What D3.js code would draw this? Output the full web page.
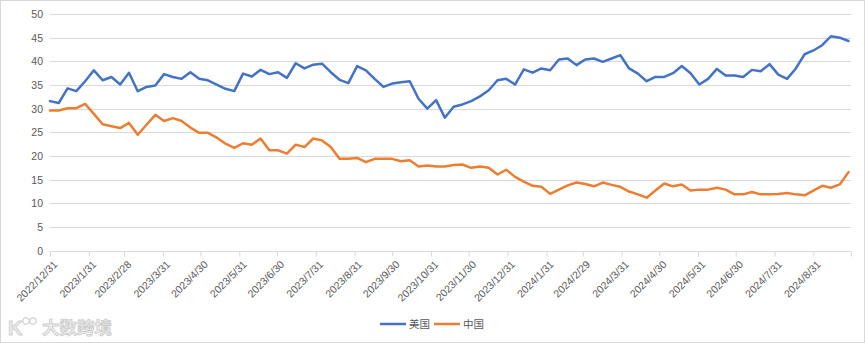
<!DOCTYPE html>
<html>
<head>
<meta charset="utf-8">
<script src="https://cdn.jsdelivr.net/npm/d3@7"></script>
<style>
  html, body { margin: 0; padding: 0; background: #fff; }
  svg { display: block; }
  text { font-family: "Liberation Sans", "Noto Sans CJK SC", sans-serif; }
</style>
</head>
<body>
<svg id="chart" width="865" height="343"></svg>
<script>
// ---- data ----
const startDate = "2022-12-31";
const axisEndDate = "2024-09-30";
const seriesNames = ["美国", "中国"];
const usValues = [31.6, 31.2, 34.3, 33.7, 35.8, 38.1, 36.0, 36.7, 35.1, 37.6,
  33.7, 34.6, 34.9, 37.3, 36.7, 36.3, 37.7, 36.3, 36.0, 35.1,
  34.2, 33.7, 37.4, 36.8, 38.2, 37.3, 37.7, 36.5, 39.6, 38.5,
  39.3, 39.5, 37.7, 36.1, 35.4, 39.0, 38.1, 36.3, 34.6, 35.3,
  35.6, 35.8, 32.1, 30.0, 31.8, 28.1, 30.4, 30.9, 31.6, 32.6,
  33.9, 36.0, 36.3, 35.1, 38.3, 37.6, 38.5, 38.1, 40.4, 40.6,
  39.2, 40.4, 40.6, 39.9, 40.6, 41.3, 38.5, 37.4, 35.8, 36.7,
  36.7, 37.5, 39.0, 37.5, 35.1, 36.3, 38.4, 37.0, 37.0, 36.7,
  38.2, 37.9, 39.4, 37.2, 36.3, 38.5, 41.5, 42.3, 43.4, 45.3,
  45.0, 44.3];
const cnValues = [29.6, 29.6, 30.1, 30.1, 31.0, 28.9, 26.7, 26.3, 25.9, 27.0,
  24.5, 26.6, 28.7, 27.4, 28.0, 27.4, 26.0, 24.9, 24.9, 23.9,
  22.6, 21.7, 22.7, 22.4, 23.7, 21.2, 21.2, 20.5, 22.4, 21.9,
  23.7, 23.3, 21.9, 19.4, 19.4, 19.6, 18.7, 19.4, 19.4, 19.4,
  18.9, 19.1, 17.8, 18.0, 17.8, 17.8, 18.1, 18.2, 17.5, 17.8,
  17.5, 16.1, 17.1, 15.6, 14.6, 13.7, 13.5, 12.0, 12.9, 13.8,
  14.4, 14.1, 13.6, 14.4, 13.9, 13.5, 12.5, 11.9, 11.2, 12.7,
  14.2, 13.6, 14.0, 12.7, 12.9, 12.9, 13.3, 12.9, 11.9, 11.9,
  12.4, 11.9, 11.9, 12.0, 12.2, 11.9, 11.7, 12.7, 13.7, 13.3,
  14.0, 16.6];
const xTickLabels = ["2022/12/31", "2023/1/31", "2023/2/28", "2023/3/31", "2023/4/30",
  "2023/5/31", "2023/6/30", "2023/7/31", "2023/8/31", "2023/9/30", "2023/10/31",
  "2023/11/30", "2023/12/31", "2024/1/31", "2024/2/29", "2024/3/31", "2024/4/30",
  "2024/5/31", "2024/6/30", "2024/7/31", "2024/8/31"];
const yTicks = [0, 5, 10, 15, 20, 25, 30, 35, 40, 45, 50];
const colors = ["#4472C4", "#ED7D31"];

// ---- setup ----
const svg = d3.select("#chart");
const W = 865, H = 343;
const parse = d3.timeParse("%Y-%m-%d");
const parseLbl = d3.timeParse("%Y/%m/%d");
const t0 = parse(startDate);
const dates = d3.range(usValues.length).map(i => d3.timeDay.offset(t0, 7 * i));

const x = d3.scaleTime().domain([t0, parse(axisEndDate)]).range([50, 851]);
const y = d3.scaleLinear().domain([0, 50]).range([250.7, 14]);

// outer border
svg.append("rect").attr("x", 0.5).attr("y", 0.5).attr("width", W - 1).attr("height", H - 1)
  .attr("fill", "#fff").attr("stroke", "#d9d9d9").attr("stroke-width", 1);

// gridlines
svg.append("g").selectAll("line").data(yTicks.filter(d => d > 0)).join("line")
  .attr("x1", 50).attr("x2", 851)
  .attr("y1", d => Math.round(y(d)) + 0.5).attr("y2", d => Math.round(y(d)) + 0.5)
  .attr("stroke", "#d9d9d9").attr("stroke-width", 1);

// y axis labels
const yAxis = d3.axisLeft(y).tickValues(yTicks).tickSize(0).tickPadding(7);
const gy = svg.append("g").attr("transform", "translate(50,0)").call(yAxis);
gy.select(".domain").remove();
gy.selectAll("text").attr("fill", "#595959").attr("font-size", "10.5px")
  .attr("font-family", "Liberation Sans, sans-serif");

// x axis
const tickDates = xTickLabels.map(s => parseLbl(s)).concat([parse(axisEndDate)]);
const xAxis = d3.axisBottom(x).tickValues(tickDates).tickSize(5).tickPadding(0)
  .tickFormat((d, i) => i < xTickLabels.length ? xTickLabels[i] : "");
const gx = svg.append("g").attr("transform", `translate(0,${Math.round(y(0)) + 0.5})`).call(xAxis);
gx.select(".domain").attr("stroke", "#d9d9d9").attr("d", "M50,0H851");
gx.selectAll(".tick line").attr("stroke", "#d9d9d9");
gx.selectAll("text")
  .attr("fill", "#595959").attr("font-size", "10.5px")
  .attr("text-anchor", "end")
  .attr("transform", "translate(5,11) rotate(-45)")
  .attr("dy", "0.35em").attr("y", 0).attr("x", 0);

// lines
const series = [usValues, cnValues];
const line = d3.line().x((d, i) => x(dates[i])).y(d => y(d));
svg.append("g").selectAll("path").data(series).join("path")
  .attr("d", d => line(d))
  .attr("fill", "none")
  .attr("stroke", (d, i) => colors[i])
  .attr("stroke-width", 2.5)
  .attr("stroke-linejoin", "round")
  .attr("stroke-linecap", "round");

// legend
const legend = svg.append("g");
const legX = [380, 434];
seriesNames.forEach((name, i) => {
  legend.append("line").attr("x1", legX[i]).attr("x2", legX[i] + 26)
    .attr("y1", 324).attr("y2", 324)
    .attr("stroke", colors[i]).attr("stroke-width", 2.5);
  legend.append("text").attr("x", legX[i] + 29).attr("y", 328)
    .attr("font-size", "10.5px").attr("fill", "#595959")
    .attr("font-family", "Noto Sans CJK SC, sans-serif")
    .text(name);
});

// watermark
const wm = svg.append("g").attr("opacity", 0.85);
wm.append("text").attr("x", 8).attr("y", 335).attr("font-size", "20px")
  .attr("font-family", "Noto Sans CJK SC, sans-serif").attr("font-weight", "bold")
  .attr("fill", "#e4e4e4").attr("stroke", "#c8c8c8").attr("stroke-width", 0.8)
  .text("K");
wm.append("circle").attr("cx", 26).attr("cy", 321).attr("r", 3.2)
  .attr("fill", "none").attr("stroke", "#c8c8c8").attr("stroke-width", 1.2);
wm.append("circle").attr("cx", 33).attr("cy", 321).attr("r", 3.2)
  .attr("fill", "none").attr("stroke", "#c8c8c8").attr("stroke-width", 1.2);
wm.append("text").attr("x", 42).attr("y", 334).attr("font-size", "17.5px")
  .attr("font-family", "Noto Sans CJK SC, sans-serif").attr("font-weight", "bold")
  .attr("fill", "#ececec").attr("stroke", "#c4c4c4").attr("stroke-width", 0.8)
  .text("大数跨境");
</script>
</body>
</html>
